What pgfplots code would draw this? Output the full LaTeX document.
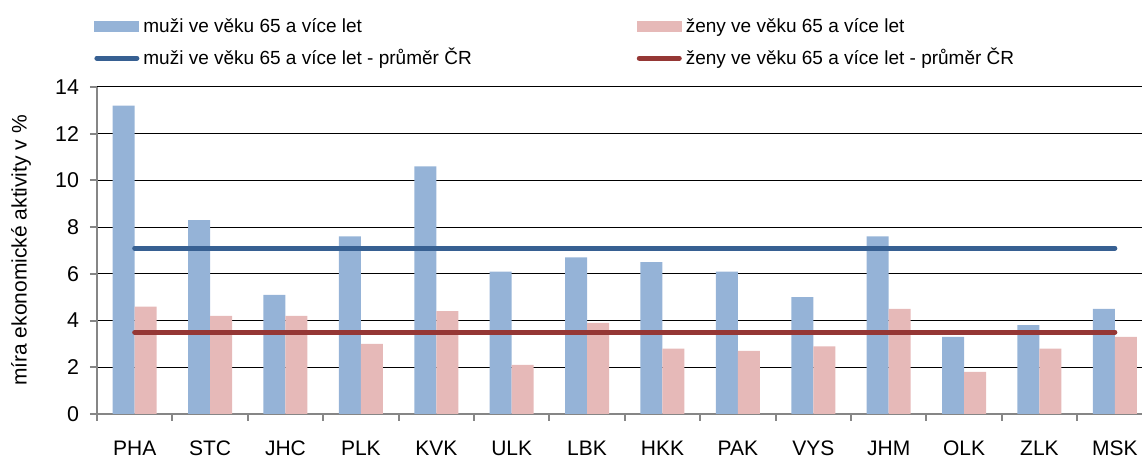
\documentclass[border=0pt]{standalone}
\usepackage{fontspec}
\setmainfont{Liberation Sans}
\usepackage{pgfplots}
\pgfplotsset{compat=1.18}
\definecolor{barblue}{HTML}{95B3D7}
\definecolor{barpink}{HTML}{E6B9B8}
\definecolor{lineblue}{HTML}{376092}
\definecolor{linered}{HTML}{953735}
\definecolor{axgray}{HTML}{868686}
\begin{document}
\begin{tikzpicture}
\begin{axis}[
  at={(0,0)}, anchor=south west,
  scale only axis, width=522.5pt, height=163.5pt,
  xmin=-0.5, xmax=13.36, ymin=0, ymax=14,
  ytick={0,2,4,6,8,10,12,14},
  xtick={-0.5,0.5,1.5,2.5,3.5,4.5,5.5,6.5,7.5,8.5,9.5,10.5,11.5,12.5},
  xticklabels={PHA,STC,JHC,PLK,KVK,ULK,LBK,HKK,PAK,VYS,JHM,OLK,ZLK,MSK},
  xticklabel style={anchor=north, xshift=18.85pt, yshift=-6.5pt, font=\fontsize{10.5}{12}\selectfont},
  yticklabel style={font=\fontsize{10.7}{12}\selectfont, xshift=-2pt},
  /pgf/number format/assume math mode=true,
  tick align=outside, major tick length=3.5pt,
  tick style={axgray, line width=1pt},
  axis x line*=bottom, axis y line*=left,
  axis line style={axgray, line width=1pt},
  ymajorgrids, grid style={black, line width=0.5pt},
  ylabel={míra ekonomické aktivity v \%},
  ylabel style={at={(axis description cs:-0.0727,0.5)}, anchor=center, font=\fontsize{10.5}{12}\selectfont},
  legend columns=2,
  legend cell align=left,
  legend style={draw=none, fill=none, at={(axis description cs:0,1)}, anchor=north west,
    xshift=-1.5pt, yshift=36.5pt, inner sep=0pt, row sep=2.5pt,
    font=\fontsize{9.5}{11.5}\selectfont,
    /tikz/column 2/.style={column sep=80.5pt}},
]
\addplot[ybar, fill=barblue, draw=none, bar width=11pt, bar shift=-5.5pt,
  legend image code/.code={\fill[barblue] (0pt,-2.75pt) rectangle (22.5pt,2.75pt);}]
  coordinates {(0,13.2) (1,8.3) (2,5.1) (3,7.6) (4,10.6) (5,6.1) (6,6.7) (7,6.5) (8,6.1) (9,5.0) (10,7.6) (11,3.3) (12,3.8) (13,4.5)};
\addlegendentry{muži ve věku 65 a více let}
\addplot[ybar, fill=barpink, draw=none, bar width=11pt, bar shift=5.5pt,
  legend image code/.code={\fill[barpink] (0pt,-2.75pt) rectangle (22.5pt,2.75pt);}]
  coordinates {(0,4.6) (1,4.2) (2,4.2) (3,3.0) (4,4.4) (5,2.1) (6,3.9) (7,2.8) (8,2.7) (9,2.9) (10,4.5) (11,1.8) (12,2.8) (13,3.3)};
\addlegendentry{ženy ve věku 65 a více let}
\addplot[lineblue, line width=2.5pt, line cap=round,
  legend image code/.code={\draw[lineblue, line width=2.5pt, line cap=round] (1.25pt,0) -- (21.25pt,0);}]
  coordinates {(0,7.1) (13,7.1)};
\addlegendentry{muži ve věku 65 a více let - průměr ČR}
\addplot[linered, line width=2.5pt, line cap=round,
  legend image code/.code={\draw[linered, line width=2.5pt, line cap=round] (1.25pt,0) -- (21.25pt,0);}]
  coordinates {(0,3.5) (13,3.5)};
\addlegendentry{ženy ve věku 65 a více let - průměr ČR}
\end{axis}
\pgfresetboundingbox
\path[use as bounding box] (-48.5pt,-22.5pt) rectangle (522.5pt,207pt);
\end{tikzpicture}
\end{document}
